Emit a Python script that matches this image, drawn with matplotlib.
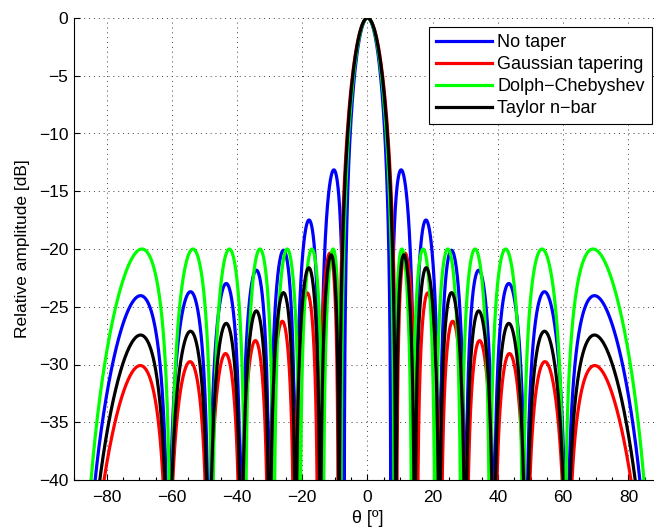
import numpy as np
import matplotlib
matplotlib.use("Agg")
import matplotlib.pyplot as plt
from matplotlib.ticker import MultipleLocator

plt.rcParams["font.family"] = ["Liberation Sans", "DejaVu Sans"]

# Linear array: 16 isotropic elements at half-wavelength spacing
N_ELEM = 16
SPACING_WL = 0.5

# Taper design parameters
GAUSS_ALPHA = 0.86       # w = exp(-alpha * (x / x_edge)^2)
CHEB_SLL_DB = 20.0       # Dolph-Chebyshev side-lobe level
TAYLOR_SLL_DB = 20.0     # Taylor design side-lobe level
TAYLOR_NBAR = 2

labels = ["No taper", "Gaussian tapering", "Dolph\u2212Chebyshev", "Taylor n\u2212bar"]
colors = ["#0000ff", "#ff0000", "#00ff00", "#000000"]
x_ticks = [-80, -60, -40, -20, 0, 20, 40, 60, 80]
y_ticks = [-40, -35, -30, -25, -20, -15, -10, -5, 0]

theta = np.linspace(-90.0, 90.0, 6001)
psi = 2 * np.pi * SPACING_WL * np.sin(np.radians(theta))
pos = np.arange(N_ELEM) - (N_ELEM - 1) / 2.0


def to_db(af):
    return 20 * np.log10(np.maximum(np.abs(af), 1e-12))


def array_factor_db(w):
    af = np.exp(1j * np.outer(psi, pos)) @ w
    return to_db(af / np.sum(w))


def chebyshev_db(sll_db):
    R = 10 ** (sll_db / 20.0)
    m = N_ELEM - 1
    x0 = np.cosh(np.arccosh(R) / m)
    x = x0 * np.cos(psi / 2)
    t = np.empty_like(x)
    inner = np.abs(x) <= 1
    t[inner] = np.cos(m * np.arccos(x[inner]))
    outer = ~inner
    t[outer] = np.sign(x[outer]) ** m * np.cosh(m * np.arccosh(np.abs(x[outer])))
    return to_db(t / R)


def taylor_weights(M, nbar, sll):
    B = 10 ** (sll / 20.0)
    A = np.arccosh(B) / np.pi
    s2 = nbar ** 2 / (A ** 2 + (nbar - 0.5) ** 2)
    ma = np.arange(1, nbar)
    m2 = ma * ma
    Fm = np.empty(nbar - 1)
    for i, m in enumerate(ma):
        sign = 1 if i % 2 == 0 else -1
        numer = sign * np.prod(1 - m2[i] / s2 / (A ** 2 + (ma - 0.5) ** 2))
        denom = 2 * np.prod(1 - m2[i] / m2[:i]) * np.prod(1 - m2[i] / m2[i + 1:])
        Fm[i] = numer / denom
    n = np.arange(M)
    w = 1 + 2 * np.dot(Fm, np.cos(2 * np.pi * ma[:, None] * (n - M / 2.0 + 0.5) / M))
    return w


w_uniform = np.ones(N_ELEM)
w_gauss = np.exp(-GAUSS_ALPHA * (pos / pos.max()) ** 2)
w_taylor = taylor_weights(N_ELEM, TAYLOR_NBAR, TAYLOR_SLL_DB)

patterns = [
    array_factor_db(w_uniform),
    array_factor_db(w_gauss),
    chebyshev_db(CHEB_SLL_DB),
    array_factor_db(w_taylor),
]

fig = plt.figure(figsize=(6.54, 5.27), dpi=100)
ax = fig.add_axes([74 / 654, 47 / 527, 587 / 654, 462 / 527])

for y, c, lab in zip(patterns, colors, labels):
    ax.plot(theta, y, color=c, lw=2.3, label=lab)

ax.set_xlim(-90, 90)
ax.set_ylim(-40, 0)
ax.set_xticks(x_ticks)
ax.set_yticks(y_ticks)
ax.xaxis.set_minor_locator(MultipleLocator(5))
ax.tick_params(which="both", direction="in", labelsize=12.5, width=0.8)
ax.tick_params(which="major", length=4, pad=4)
ax.tick_params(axis="x", which="major", pad=7)
ax.tick_params(which="minor", length=2)
ax.tick_params(axis="y", which="minor", left=False)
for s in ("top", "right"):
    ax.spines[s].set_visible(False)
for s in ("left", "bottom"):
    ax.spines[s].set_linewidth(0.8)
ax.grid(True, which="major", linestyle=(0, (1, 4)), color="0.25", lw=0.7)

ax.set_xlabel("\u03b8 [\u00ba]", fontsize=13, labelpad=4)
ax.set_ylabel("Relative amplitude [dB]", fontsize=12.5, labelpad=6)

leg = ax.legend(loc="upper right", bbox_to_anchor=(652 / 654, 1 - 27 / 527),
                bbox_transform=fig.transFigure, fontsize=13, fancybox=False,
                edgecolor="black", framealpha=1, borderaxespad=0,
                handlelength=3.1, handletextpad=0.3, labelspacing=0.27,
                borderpad=0.4)
leg.get_frame().set_linewidth(0.8)

fig.savefig("out.png", dpi=100)
